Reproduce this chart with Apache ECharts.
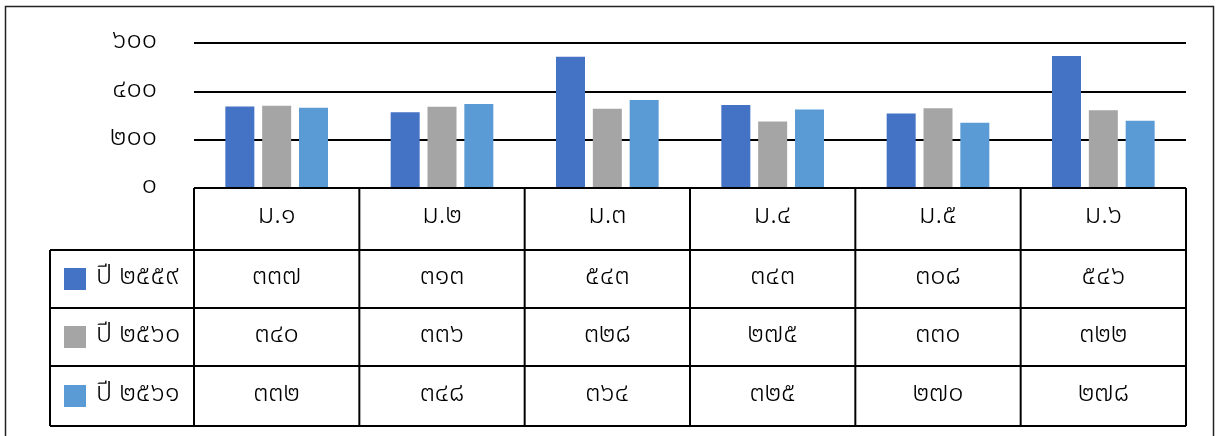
<!DOCTYPE html>
<html><head><meta charset="utf-8">
<script src="https://cdn.jsdelivr.net/npm/echarts@6/dist/echarts.min.js"></script>
<style>html,body{margin:0;padding:0;background:#fff}#c{width:1216px;height:436px}</style>
</head><body><div id="c"></div>
<script>
const categories = ['ม.๑','ม.๒','ม.๓','ม.๔','ม.๕','ม.๖'];
const seriesNames = ['ปี ๒๕๕๙','ปี ๒๕๖๐','ปี ๒๕๖๑'];
const y2559 = [337, 313, 543, 343, 308, 546];
const y2560 = [340, 336, 328, 275, 330, 322];
const y2561 = [332, 348, 364, 325, 270, 278];
const yTicks = [0, 200, 400, 600];
const colors = ['#4472C4', '#A5A5A5', '#5B9BD5'];

const thaiDigits = '๐๑๒๓๔๕๖๗๘๙';
const toThai = n => String(n).replace(/[0-9]/g, d => thaiDigits[+d]);
const FONT = '"Noto Sans Thai", "Noto Sans", "DejaVu Sans", sans-serif';
const FS = 27;
const FW = 300;

const chart = echarts.init(document.getElementById('c'), null, {renderer: 'canvas'});
const seriesData = [y2559, y2560, y2561];
chart.setOption({
  animation: false,
  grid: {left: 194, right: 30, top: 43, bottom: 248},
  xAxis: {type: 'category', data: categories, axisLine: {show: false}, axisTick: {show: false}, axisLabel: {show: false}},
  yAxis: {type: 'value', min: yTicks[0], max: yTicks[yTicks.length-1], interval: 200,
    axisLine: {show: false}, axisTick: {show: false},
    axisLabel: {margin: 37, fontSize: FS, fontWeight: FW, color: '#000', fontFamily: FONT, formatter: v => toThai(v)},
    splitLine: {lineStyle: {color: '#000', width: 2}}},
  series: seriesData.map((d, i) => ({
    type: 'bar', name: seriesNames[i], data: d, barWidth: 29, barGap: '27%',
    itemStyle: {color: colors[i]}
  }))
});

const x0 = chart.convertToPixel({xAxisIndex: 0}, 0);
const x1 = chart.convertToPixel({xAxisIndex: 0}, 1);
const band = x1 - x0;
const left = x0 - band / 2;
const right = left + band * categories.length;
const rowY = [188, 250, 308, 366, 426];
const legendLeft = 50;
const els = [];
const line = (xa, ya, xb, yb) => els.push({type: 'line', shape: {x1: xa, y1: ya, x2: xb, y2: yb}, style: {stroke: '#000', lineWidth: 2}, z: 100});
line(left, rowY[0], right, rowY[0]);
for (let r = 1; r < rowY.length; r++) line(legendLeft, rowY[r], right, rowY[r]);
for (let c = 0; c <= categories.length; c++) {
  const x = left + band * c;
  line(x, rowY[0], x, rowY[rowY.length-1]);
}
line(legendLeft, rowY[1], legendLeft, rowY[rowY.length-1]);
const txt = (x, y, s, align) => els.push({type: 'text', x: x, y: y, style: {text: s, fontSize: FS, fontWeight: FW, fontFamily: FONT, fill: '#000', align: align || 'center', verticalAlign: 'middle'}, z: 101});
categories.forEach((c, i) => txt(left + band * (i + 0.5), (rowY[0] + rowY[1]) / 2 - 1, c));
seriesData.forEach((d, r) => {
  const cy = (rowY[r+1] + rowY[r+2]) / 2;
  els.push({type: 'rect', shape: {x: 64, y: cy - 11, width: 22, height: 22}, style: {fill: colors[r]}, z: 101});
  txt(96, cy, seriesNames[r], 'left');
  d.forEach((v, i) => txt(left + band * (i + 0.5), cy, toThai(v)));
});
els.push({type: 'rect', shape: {x: 5.5, y: 6.5, width: 1208, height: 440}, style: {fill: null, stroke: '#222', lineWidth: 1.5}, z: 99});
chart.setOption({graphic: {elements: els}});
</script></body></html>
